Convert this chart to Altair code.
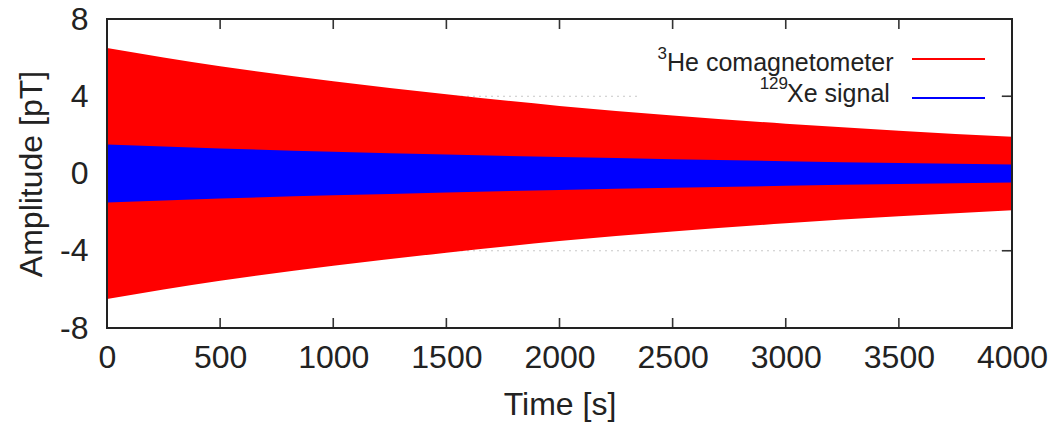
import altair as alt
import pandas as pd

# Envelope amplitudes of the two precession signals (pT) sampled every 500 s
time_s = [0, 500, 1000, 1500, 2000, 2500, 3000, 3500, 4000]
he_amp = [6.5, 5.55, 4.78, 4.1, 3.5, 3.0, 2.58, 2.22, 1.9]
xe_amp = [1.5, 1.3, 1.13, 0.98, 0.85, 0.74, 0.64, 0.55, 0.47]

x_ticks = [0, 500, 1000, 1500, 2000, 2500, 3000, 3500, 4000]
y_ticks = [-8, -4, 0, 4, 8]
grid_levels = [-4, 0, 4]

W, H = 905, 309
FONT = "Liberation Sans"
INK = "#222222"

he = pd.DataFrame({"t": time_s, "hi": he_amp, "lo": [-a for a in he_amp]})
xe = pd.DataFrame({"t": time_s, "hi": xe_amp, "lo": [-a for a in xe_amp]})

xscale = alt.Scale(domain=[0, 4000], nice=False, zero=False)
yscale = alt.Scale(domain=[-8, 8], nice=False, zero=False)

one = alt.Data(values=[{"k": 0}])

# every layer carries the same axis definition so they merge into one
x_axis = alt.Axis(
    values=x_ticks, labelExpr="'' + datum.value", labelOverlap=False, labelFlush=False,
    labelFont=FONT, labelFontSize=32, labelColor=INK, labelPadding=14,
    domain=False, ticks=False, grid=False,
    title="Time [s]", titleFont=FONT, titleFontSize=32, titleFontWeight="normal",
    titleColor=INK, titleY=86, titleBaseline="alphabetic",
)
y_axis = alt.Axis(
    values=y_ticks, labelExpr="'' + datum.value", labelOverlap=False, labelFlush=False,
    labelFont=FONT, labelFontSize=32, labelColor=INK, labelPadding=19,
    domain=False, ticks=False, grid=False,
    title="Amplitude [pT]", titleFont=FONT, titleFontSize=32, titleFontWeight="normal",
    titleColor=INK, titleX=-76, titleY=H / 2, titleBaseline="middle",
)


def X(field):
    return alt.X(field, scale=xscale, axis=x_axis)


def Y(field):
    return alt.Y(field, scale=yscale, axis=y_axis)


# dotted horizontal grid
grid = alt.Chart(pd.DataFrame({"v": grid_levels})).mark_rule(
    color="#c8c8c8", strokeDash=[2, 4], strokeWidth=1
).encode(y=Y("v:Q"), x=alt.value(0), x2=alt.value(W))

# inward tick marks on all four sides
tick_style = dict(color="#333333", strokeWidth=1.6)
xt = pd.DataFrame({"t": x_ticks})
yt = pd.DataFrame({"v": y_ticks})
ticks_bottom = alt.Chart(xt).mark_rule(**tick_style).encode(
    x=X("t:Q"), y=alt.value(H), y2=alt.value(H - 10))
ticks_top = alt.Chart(xt).mark_rule(**tick_style).encode(
    x=X("t:Q"), y=alt.value(0), y2=alt.value(10))
ticks_left = alt.Chart(yt).mark_rule(**tick_style).encode(
    y=Y("v:Q"), x=alt.value(0), x2=alt.value(10))
ticks_right = alt.Chart(yt).mark_rule(**tick_style).encode(
    y=Y("v:Q"), x=alt.value(W), x2=alt.value(W - 10))

he_area = alt.Chart(he).mark_area(color="#ff0000", interpolate="monotone").encode(
    x=X("t:Q"), y=Y("hi:Q"), y2="lo:Q")
xe_area = alt.Chart(xe).mark_area(color="#0000ff", interpolate="monotone").encode(
    x=X("t:Q"), y=Y("hi:Q"), y2="lo:Q")

# key box
key_bg = alt.Chart(one).mark_rect(color="white").encode(
    x=alt.value(533), x2=alt.value(890), y=alt.value(22), y2=alt.value(88))

key_text = dict(font=FONT, color=INK, baseline="alphabetic")
he_label = alt.Chart(one).mark_text(align="left", fontSize=25, text="He comagnetometer", **key_text).encode(
    x=alt.value(560), y=alt.value(52))
he_sup = alt.Chart(one).mark_text(align="right", fontSize=17, text="3", **key_text).encode(
    x=alt.value(560), y=alt.value(40))
xe_label = alt.Chart(one).mark_text(align="left", fontSize=25, text="Xe signal", **key_text).encode(
    x=alt.value(680), y=alt.value(83))
xe_sup = alt.Chart(one).mark_text(align="right", fontSize=17, text="129", **key_text).encode(
    x=alt.value(681), y=alt.value(70))
he_line = alt.Chart(one).mark_rule(color="#ff0000", strokeWidth=2).encode(
    x=alt.value(805), x2=alt.value(878), y=alt.value(40))
xe_line = alt.Chart(one).mark_rule(color="#0000ff", strokeWidth=2).encode(
    x=alt.value(805), x2=alt.value(878), y=alt.value(79))

# plot frame drawn on top
frame = alt.Chart(one).mark_rect(fillOpacity=0, stroke="#222222", strokeWidth=2).encode(
    x=alt.value(0), x2=alt.value(W), y=alt.value(0), y2=alt.value(H))

chart = alt.layer(
    grid, ticks_bottom, ticks_top, ticks_left, ticks_right,
    he_area, xe_area,
    key_bg, he_label, he_sup, xe_label, xe_sup, he_line, xe_line,
    frame,
).properties(
    width=W, height=H,
    autosize=alt.AutoSizeParams(type="none"),
    padding={"left": 107, "top": 19, "right": 45, "bottom": 103},
    background="white",
).configure_view(stroke=None)

chart.save("out.html", embed_options={"renderer": "svg", "actions": False})
